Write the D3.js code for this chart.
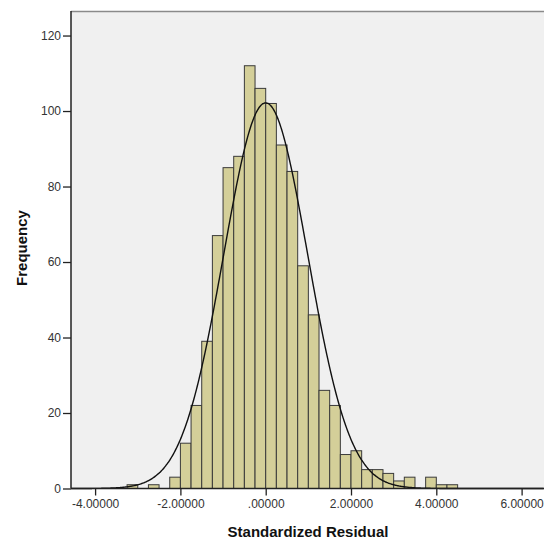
<!DOCTYPE html>
<html lang="en">
<head>
    <meta charset="UTF-8">
    <title>Standardized Residual histogram</title>
    <script src="https://d3js.org/d3.v7.min.js"></script>
    <style>
        body { margin: 0; background: #fff; }
        text { font-family: "Liberation Sans", Arial, sans-serif; }
    </style>
</head>
<body>
    <svg width="544" height="544"></svg>
    <script>
        // bin edges (width .25) and counts
        let binStarts = [-3.25, -3.0, -2.75, -2.5, -2.25, -2.0, -1.75, -1.5, -1.25, -1.0, -0.75, -0.5, -0.25,
            0, 0.25, 0.5, 0.75, 1.0, 1.25, 1.5, 1.75, 2.0, 2.25, 2.5, 2.75, 3.0, 3.25, 3.5, 3.75, 4.0, 4.25]
        let counts = [1, 0, 1, 0, 3, 12, 22, 39, 67, 85, 88, 112, 106,
            102, 91, 84, 59, 46, 26, 22, 9, 10, 5, 5, 4, 2, 3, 0, 3, 1, 1]
        let binWidth = 0.25
        let xTicks = [-4, -2, 0, 2, 4, 6]
        let xTickLabels = ["-4.00000", "-2.00000", ".00000", "2.00000", "4.00000", "6.00000"]
        let yTicks = [0, 20, 40, 60, 80, 100, 120]
        // normal curve parameters
        let curveMean = 0
        let curveSd = 0.985
        let curveN = d3.sum(counts)

        let svg = d3.select('svg')
        let plotLeft = 71, plotRight = 544, plotTop = 11, plotBottom = 488.5

        let x = d3.scaleLinear().domain([-4.565, 6.525]).range([plotLeft, plotRight])
        let y = d3.scaleLinear().domain([0, 126.5]).range([plotBottom, plotTop])

        // plot background
        svg.append("rect")
            .attr("x", plotLeft).attr("y", plotTop)
            .attr("width", plotRight - plotLeft).attr("height", plotBottom - plotTop)
            .attr("fill", "#f0f0f0")
        svg.append("line")
            .attr("x1", plotLeft).attr("x2", plotRight).attr("y1", plotTop + 0.5).attr("y2", plotTop + 0.5)
            .attr("stroke", "#8a8a8a").attr("stroke-width", 1.5)

        // bars
        let bars = binStarts.map(function (b, i) { return { x0: b, x1: b + binWidth, n: counts[i] } })
            .filter(function (d) { return d.n > 0 })
        svg.append("g")
            .selectAll("rect")
            .data(bars)
            .enter()
            .append("rect")
            .attr("x", function (d) { return x(d.x0) })
            .attr("y", function (d) { return y(d.n) })
            .attr("width", function (d) { return x(d.x1) - x(d.x0) })
            .attr("height", function (d) { return y(0) - y(d.n) })
            .attr("fill", "#d4cf99")
            .attr("stroke", "#3a3a3a")
            .attr("stroke-width", 1)

        // normal curve
        let pts = d3.range(-4.565, 6.525, 0.02)
        let dens = function (v) {
            let z = (v - curveMean) / curveSd
            return curveN * binWidth / (curveSd * Math.sqrt(2 * Math.PI)) * Math.exp(-0.5 * z * z)
        }
        svg.append("path")
            .datum(pts)
            .attr("fill", "none")
            .attr("stroke", "#111")
            .attr("stroke-width", 1.4)
            .attr("d", d3.line()
                .x(function (d) { return x(d) })
                .y(function (d) { return y(dens(d)) })
                .curve(d3.curveBasis))

        // axes
        let xAxis = svg.append("g")
            .attr("transform", `translate(0,${plotBottom})`)
            .call(d3.axisBottom(x).tickValues(xTicks)
                .tickFormat(function (d, i) { return xTickLabels[i] })
                .tickSize(7).tickPadding(4).tickSizeOuter(0))
        let yAxis = svg.append("g")
            .attr("transform", `translate(${plotLeft},0)`)
            .call(d3.axisLeft(y).tickValues(yTicks).tickSize(8).tickPadding(2).tickSizeOuter(0))
        for (let ax of [xAxis, yAxis]) {
            ax.select(".domain").attr("stroke", "#222").attr("stroke-width", 1.5)
            ax.selectAll(".tick line").attr("stroke", "#222").attr("stroke-width", 1.3)
            ax.selectAll(".tick text").attr("fill", "#333").style("font-size", "12px")
                .style("font-family", "'Liberation Sans', Arial, sans-serif")
        }
        // domain lines span the full plot frame
        yAxis.select(".domain").attr("d", `M0,${plotTop}V${plotBottom}`)
        xAxis.select(".domain").attr("d", `M${plotLeft},0H${plotRight}`)

        // titles
        svg.append("text")
            .attr("x", 308).attr("y", 537)
            .attr("text-anchor", "middle")
            .attr("font-weight", "bold").attr("font-size", "15px").attr("fill", "#111")
            .text("Standardized Residual")
        svg.append("text")
            .attr("transform", "translate(27,248) rotate(-90)")
            .attr("text-anchor", "middle")
            .attr("font-weight", "bold").attr("font-size", "15px").attr("fill", "#111")
            .text("Frequency")
    </script>
</body>
</html>
